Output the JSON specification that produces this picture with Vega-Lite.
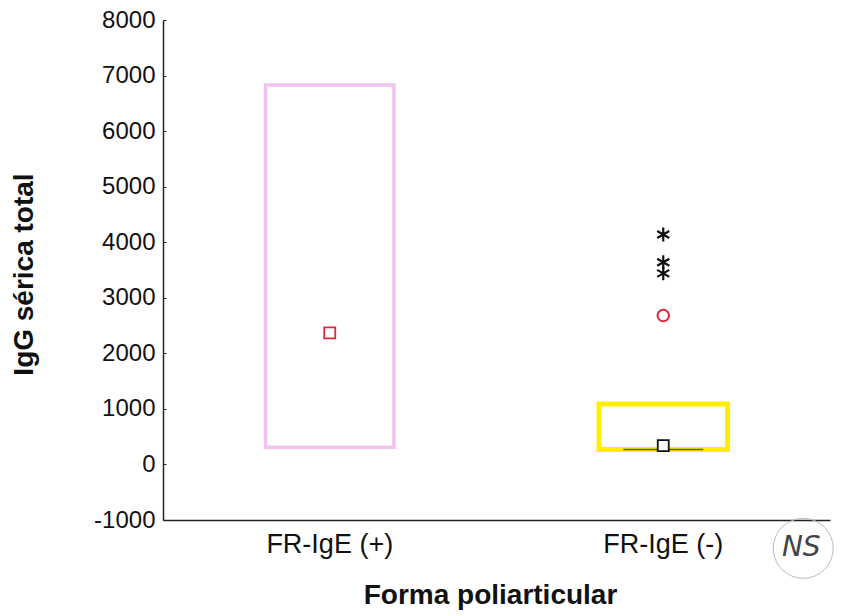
{
  "$schema": "https://vega.github.io/schema/vega-lite/v6.json",
  "autosize": "none",
  "width": 667,
  "height": 500,
  "padding": {"left": 163, "top": 20, "right": 17, "bottom": 96},
  "background": "white",
  "config": {
    "font": "Liberation Sans",
    "view": {"stroke": null},
    "axis": {"grid": false, "domainColor": "#222", "domainWidth": 1.5, "tickColor": "#222", "labelColor": "#111", "titleColor": "#111", "labelFont": "Liberation Sans", "titleFont": "Liberation Sans"}
  },
  "resolve": {"scale": {"stroke": "independent"}},
  "datasets": {
    "cajas": [
      {"grupo": "FR-IgE (+)", "q1": 310, "q3": 6830},
      {"grupo": "FR-IgE (-)", "q1": 270, "q3": 1090}
    ],
    "medianas": [
      {"grupo": "FR-IgE (+)", "mediana": 2370},
      {"grupo": "FR-IgE (-)", "mediana": 340}
    ],
    "minimos": [
      {"grupo": "FR-IgE (-)", "minimo": 270}
    ],
    "atipicos": [
      {"grupo": "FR-IgE (-)", "valor": 2680}
    ],
    "extremos": [
      {"grupo": "FR-IgE (-)", "valor": 3440},
      {"grupo": "FR-IgE (-)", "valor": 3640},
      {"grupo": "FR-IgE (-)", "valor": 4140}
    ],
    "nota": [
      {"grupo": "FR-IgE (-)", "valor": -1510, "texto": "NS"}
    ]
  },
  "encoding": {
    "x": {
      "field": "grupo",
      "type": "nominal",
      "sort": ["FR-IgE (+)", "FR-IgE (-)"],
      "scale": {"domain": ["FR-IgE (+)", "FR-IgE (-)"], "paddingInner": 0, "paddingOuter": 0},
      "axis": {
        "title": "Forma poliarticular",
        "labelAngle": 0,
        "labelFontSize": 27,
        "labelBaseline": "alphabetic",
        "ticks": false,
        "tickSize": 0,
        "labelPadding": 32,
        "titleFontSize": 28,
        "titleFontWeight": "bold",
        "titleBaseline": "alphabetic",
        "titleX": 327,
        "titleY": 83
      }
    }
  },
  "layer": [
    {
      "data": {"name": "cajas"},
      "mark": {"type": "bar", "fill": null, "fillOpacity": 0, "width": {"band": 0.385}},
      "encoding": {
        "y": {
          "field": "q1",
          "type": "quantitative",
          "scale": {"domain": [-1000, 8000], "nice": false, "zero": false},
          "axis": {
            "title": "IgG sérica total",
            "values": [-1000, 0, 1000, 2000, 3000, 4000, 5000, 6000, 7000, 8000],
            "labelExpr": "datum.value < 0 ? '-' + abs(datum.value) : '' + datum.value",
            "labelFontSize": 24,
            "labelPadding": 11,
            "tickSize": -3,
            "titleFontSize": 28,
            "titleFontWeight": "bold",
            "titleBaseline": "alphabetic",
            "titleX": -131,
            "titleY": 254
          }
        },
        "y2": {"field": "q3"},
        "stroke": {
          "field": "grupo",
          "type": "nominal",
          "scale": {"domain": ["FR-IgE (+)", "FR-IgE (-)"], "range": ["#f2c2ee", "#ffee00"]},
          "legend": null
        },
        "strokeWidth": {
          "field": "grupo",
          "type": "nominal",
          "scale": {"domain": ["FR-IgE (+)", "FR-IgE (-)"], "range": [3.5, 5]},
          "legend": null
        }
      }
    },
    {
      "data": {"name": "minimos"},
      "mark": {"type": "tick", "orient": "horizontal", "size": 80, "thickness": 1.5, "color": "#222"},
      "encoding": {
        "y": {"field": "minimo", "type": "quantitative"}
      }
    },
    {
      "data": {"name": "medianas"},
      "mark": {"type": "point", "shape": "square", "filled": true, "fill": "white", "size": 121, "strokeWidth": 1.8, "opacity": 1},
      "encoding": {
        "y": {"field": "mediana", "type": "quantitative"},
        "stroke": {
          "field": "grupo",
          "type": "nominal",
          "scale": {"domain": ["FR-IgE (+)", "FR-IgE (-)"], "range": ["#e0283c", "#111111"]},
          "legend": null
        }
      }
    },
    {
      "data": {"name": "atipicos"},
      "mark": {"type": "point", "shape": "circle", "filled": false, "size": 130, "strokeWidth": 2, "color": "#e0283c", "opacity": 1},
      "encoding": {
        "y": {"field": "valor", "type": "quantitative"}
      }
    },
    {
      "data": {"name": "extremos"},
      "mark": {"type": "point", "shape": "M0,-1L0,1M-0.866,-0.5L0.866,0.5M-0.866,0.5L0.866,-0.5", "filled": false, "size": 196, "strokeWidth": 2.2, "color": "#111", "opacity": 1},
      "encoding": {
        "y": {"field": "valor", "type": "quantitative"}
      }
    },
    {
      "data": {"name": "nota"},
      "mark": {"type": "point", "shape": "circle", "filled": false, "size": 3600, "strokeWidth": 1, "color": "#bbbbbb", "opacity": 1, "xOffset": 140, "clip": false},
      "encoding": {
        "y": {"field": "valor", "type": "quantitative"}
      }
    },
    {
      "data": {"name": "nota"},
      "mark": {"type": "text", "fontSize": 28, "font": "DejaVu Sans", "fontStyle": "italic", "fontWeight": "normal", "color": "#444", "xOffset": 138, "clip": false},
      "encoding": {
        "y": {"field": "valor", "type": "quantitative"},
        "text": {"field": "texto"}
      }
    }
  ]
}
